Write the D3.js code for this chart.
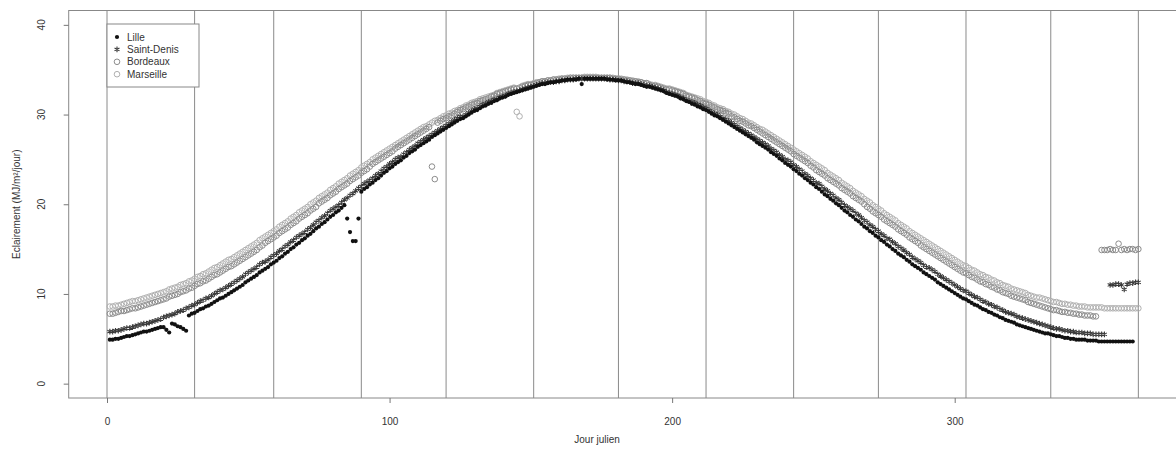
<!DOCTYPE html>
<html><head><meta charset="utf-8">
<script src="https://cdn.jsdelivr.net/npm/d3@7"></script>
<style>body{margin:0;background:#fff}svg{display:block}text{font-family:"Liberation Sans",Arial,sans-serif;fill:#333}</style>
</head><body><svg id="c" width="1176" height="449"></svg>
<script>
const seriesNames = ["Lille", "Saint-Denis", "Bordeaux", "Marseille"];
// daily values, day 1..365 (10 per row)
const lille = [
4.9,4.9,5.0,5.0,5.1,5.2,5.3,5.3,5.4,5.5,
5.6,5.7,5.8,5.8,5.9,6.0,6.1,6.2,6.3,6.3,
6.0,5.7,6.7,6.6,6.4,6.3,6.1,5.9,7.6,7.8,
7.9,8.1,8.3,8.4,8.6,8.7,8.9,9.1,9.3,9.5,
9.6,9.8,10.0,10.2,10.4,10.6,10.8,11.0,11.3,11.5,
11.7,11.9,12.1,12.4,12.6,12.8,13.0,13.3,13.5,13.7,
14.0,14.2,14.5,14.7,15.0,15.2,15.5,15.7,16.0,16.2,
16.5,16.7,17.0,17.3,17.5,17.8,18.0,18.3,18.6,18.8,
19.1,19.3,19.6,19.9,18.4,16.9,15.9,15.9,18.4,21.4,
21.7,21.9,22.2,22.4,22.7,22.9,23.2,23.5,23.7,24.0,
24.2,24.5,24.7,24.9,25.2,25.4,25.7,25.9,26.1,26.4,
26.6,26.8,27.0,27.2,27.5,27.7,27.9,28.1,28.3,28.5,
28.7,28.9,29.1,29.3,29.5,29.6,29.8,30.0,30.2,30.4,
30.5,30.7,30.9,31.0,31.2,31.3,31.5,31.6,31.8,31.9,
32.0,32.2,32.3,32.4,32.5,32.6,32.7,32.8,32.9,33.0,
33.1,33.2,33.3,33.4,33.4,33.5,33.6,33.6,33.7,33.7,
33.8,33.8,33.9,33.9,33.9,33.9,34.0,33.4,34.0,34.0,
34.0,34.0,34.0,34.0,34.0,34.0,33.9,33.9,33.9,33.8,
33.8,33.8,33.7,33.6,33.6,33.5,33.4,33.4,33.3,33.2,
33.1,33.1,33.0,32.9,32.8,32.7,32.6,32.4,32.3,32.2,
32.1,32.0,31.8,31.7,31.5,31.4,31.2,31.1,30.9,30.8,
30.6,30.5,30.3,30.1,29.9,29.8,29.6,29.4,29.2,29.0,
28.8,28.6,28.4,28.2,28.0,27.8,27.6,27.4,27.2,26.9,
26.7,26.5,26.3,26.1,25.8,25.6,25.4,25.1,24.9,24.6,
24.4,24.2,23.9,23.7,23.4,23.2,22.9,22.7,22.4,22.2,
21.9,21.7,21.4,21.1,20.9,20.6,20.4,20.1,19.9,19.6,
19.3,19.1,18.8,18.6,18.3,18.1,17.8,17.5,17.3,17.0,
16.8,16.5,16.3,16.0,15.8,15.5,15.3,15.0,14.8,14.5,
14.3,14.1,13.8,13.6,13.3,13.1,12.9,12.7,12.4,12.2,
12.0,11.8,11.6,11.3,11.1,10.9,10.7,10.5,10.3,10.1,
9.9,9.7,9.5,9.4,9.2,9.0,8.8,8.7,8.5,8.3,
8.2,8.0,7.9,7.7,7.6,7.4,7.3,7.1,7.0,6.9,
6.8,6.6,6.5,6.4,6.3,6.2,6.1,6.0,5.9,5.8,
5.7,5.6,5.6,5.5,5.4,5.3,5.3,5.2,5.1,5.1,
5.0,5.0,4.9,4.9,4.9,4.9,4.8,4.8,4.8,4.8,
4.7,4.7,4.7,4.7,4.7,4.7,4.7,4.7,4.7,4.7,
4.7,4.7,4.7,null,null];
const saintDenis = [
5.8,5.8,5.9,5.9,6.0,6.1,6.2,6.2,6.3,6.4,
6.5,6.6,6.7,6.7,6.8,6.9,7.0,7.1,7.2,7.4,
7.5,7.6,7.7,7.8,8.0,8.1,8.2,8.4,8.5,8.7,
8.8,9.0,9.2,9.3,9.5,9.6,9.8,10.0,10.2,10.4,
10.5,10.7,10.9,11.1,11.3,11.5,11.7,11.9,12.2,12.4,
12.6,12.8,13.0,13.3,13.5,13.6,13.8,14.1,14.3,14.5,
14.8,15.0,15.3,15.5,15.8,16.0,16.3,16.5,16.7,16.9,
17.2,17.4,17.7,18.0,18.2,18.5,18.7,19.0,19.3,19.5,
19.7,19.9,20.2,20.5,20.7,21.0,21.2,21.5,21.8,22.0,
22.3,22.5,22.7,22.9,23.2,23.4,23.7,24.0,24.2,24.5,
24.7,25.0,25.2,25.3,25.6,25.8,26.1,26.3,26.5,26.8,
27.0,27.2,27.4,27.6,27.8,28.0,28.2,28.4,28.6,28.8,
29.0,29.2,29.4,29.6,29.8,29.8,30.0,30.2,30.4,30.6,
30.7,30.9,31.1,31.2,31.4,31.5,31.7,31.7,31.9,32.0,
32.1,32.3,32.4,32.5,32.6,32.7,32.8,32.9,33.0,33.1,
33.2,33.3,33.4,33.5,33.5,33.6,33.6,33.6,33.7,33.7,
33.8,33.8,33.9,33.9,33.9,34.0,34.0,34.0,34.0,34.0,
34.0,34.0,34.0,34.0,34.0,34.0,34.0,33.9,33.9,33.9,
33.8,33.8,33.7,33.7,33.6,33.5,33.5,33.5,33.4,33.3,
33.2,33.2,33.1,33.0,32.9,32.8,32.7,32.5,32.4,32.3,
32.2,32.1,31.9,31.8,31.6,31.5,31.4,31.3,31.1,31.0,
30.8,30.7,30.5,30.3,30.1,30.0,29.8,29.6,29.5,29.3,
29.1,28.9,28.7,28.5,28.3,28.1,27.9,27.7,27.5,27.3,
27.1,26.9,26.7,26.5,26.2,26.0,25.8,25.5,25.3,25.0,
24.9,24.7,24.4,24.2,23.9,23.7,23.4,23.2,22.9,22.7,
22.4,22.3,22.0,21.7,21.5,21.2,21.0,20.7,20.5,20.2,
19.9,19.7,19.5,19.3,19.0,18.8,18.5,18.2,18.0,17.7,
17.5,17.2,17.0,16.7,16.5,16.2,16.1,15.8,15.6,15.3,
15.1,14.9,14.6,14.4,14.1,13.9,13.7,13.5,13.2,13.0,
12.9,12.7,12.5,12.2,12.0,11.8,11.6,11.4,11.2,11.0,
10.8,10.6,10.4,10.3,10.1,9.9,9.7,9.6,9.4,9.2,
9.1,8.9,8.8,8.6,8.5,8.3,8.2,8.0,7.9,7.8,
7.7,7.5,7.4,7.3,7.2,7.1,7.0,6.9,6.8,6.7,
6.6,6.5,6.4,6.3,6.2,6.1,6.1,6.0,5.9,5.9,
5.8,5.8,5.7,5.7,5.7,5.6,5.6,5.6,5.5,5.5,
5.5,5.5,5.5,null,11.0,11.0,11.1,11.1,11.0,10.5,
11.1,11.2,11.2,11.3,11.3];
const bordeaux = [
7.8,7.8,7.9,8.0,8.1,8.1,8.2,8.3,8.4,8.4,
8.5,8.6,8.7,8.8,8.9,9.0,9.1,9.2,9.3,9.4,
9.5,9.7,9.8,9.9,10.0,10.2,10.3,10.4,10.6,10.7,
10.9,11.1,11.2,11.4,11.5,11.7,11.9,12.1,12.2,12.4,
12.6,12.8,13.0,13.1,13.3,13.5,13.7,13.9,14.1,14.3,
14.5,14.7,14.9,15.2,15.4,15.7,15.9,16.1,16.3,16.5,
16.8,17.0,17.2,17.4,17.7,17.9,18.1,18.4,18.6,18.8,
19.0,19.3,19.5,19.7,20.1,20.3,20.5,20.7,21.0,21.2,
21.4,21.7,21.9,22.1,22.3,22.6,22.8,23.0,23.2,23.5,
23.7,23.9,24.2,24.5,24.7,24.9,25.1,25.3,25.5,25.7,
25.9,26.2,26.4,26.6,26.8,27.0,27.2,27.4,27.6,27.8,
28.0,28.2,28.4,28.6,24.2,22.8,29.1,29.3,29.5,29.6,
29.8,29.9,30.1,30.3,30.5,30.6,30.8,30.9,31.1,31.2,
31.3,31.5,31.6,31.7,31.8,32.0,32.1,32.3,32.4,32.5,
32.6,32.7,32.8,32.9,32.9,33.0,33.1,33.2,33.3,33.3,
33.4,33.5,33.6,33.7,33.7,33.8,33.8,33.9,33.9,33.9,
34.0,34.0,34.0,34.1,34.1,34.1,34.1,34.1,34.1,34.1,
34.1,34.1,34.1,34.1,34.1,34.1,34.1,34.1,34.0,34.0,
34.0,33.9,33.9,33.8,33.8,33.7,33.7,33.6,33.6,33.5,
33.5,33.3,33.2,33.2,33.1,33.0,32.9,32.8,32.8,32.7,
32.6,32.5,32.4,32.3,32.1,32.0,31.9,31.8,31.6,31.5,
31.3,31.2,31.1,30.9,30.8,30.6,30.5,30.4,30.2,30.1,
29.8,29.7,29.5,29.3,29.2,29.0,28.8,28.7,28.5,28.3,
28.1,27.9,27.7,27.5,27.3,27.1,26.9,26.7,26.5,26.3,
26.1,25.9,25.6,25.4,25.2,25.0,24.8,24.6,24.3,24.1,
23.8,23.6,23.4,23.2,22.9,22.7,22.5,22.3,22.1,21.8,
21.6,21.4,21.2,20.9,20.7,20.5,20.3,20.0,19.7,19.5,
19.2,19.0,18.8,18.6,18.3,18.1,17.9,17.7,17.5,17.2,
17.0,16.8,16.6,16.3,16.1,15.9,15.7,15.4,15.2,15.0,
14.8,14.6,14.4,14.2,14.0,13.8,13.6,13.4,13.2,13.0,
12.8,12.6,12.4,12.3,12.1,11.9,11.8,11.6,11.4,11.3,
11.1,11.0,10.8,10.7,10.5,10.4,10.2,10.1,10.0,9.8,
9.7,9.6,9.5,9.4,9.3,9.1,9.0,8.9,8.8,8.7,
8.6,8.5,8.4,8.3,8.2,8.2,8.1,8.0,8.0,7.9,
7.9,7.8,7.8,7.7,7.7,7.6,7.6,7.6,7.5,7.5,
null,14.9,14.9,14.9,15.0,14.9,14.9,15.6,14.9,15.0,
14.9,15.0,15.0,14.9,15.0];
const marseille = [
8.6,8.6,8.7,8.7,8.8,8.9,9.0,9.1,9.2,9.2,
9.3,9.4,9.5,9.6,9.7,9.8,9.9,10.0,10.1,10.2,
10.3,10.5,10.6,10.7,10.8,11.0,11.1,11.2,11.4,11.5,
11.7,11.9,12.0,12.2,12.3,12.5,12.7,12.9,13.0,13.2,
13.4,13.6,13.8,13.9,14.1,14.3,14.5,14.7,14.9,15.1,
15.3,15.5,15.7,16.0,16.2,16.4,16.6,16.8,17.0,17.2,
17.5,17.7,17.9,18.1,18.4,18.6,18.8,19.1,19.3,19.5,
19.7,20.0,20.2,20.4,20.7,20.9,21.1,21.3,21.6,21.8,
22.0,22.3,22.5,22.7,22.9,23.2,23.4,23.6,23.8,24.1,
24.3,24.5,24.7,25.0,25.2,25.4,25.6,25.8,26.0,26.2,
26.4,26.6,26.8,27.0,27.2,27.4,27.6,27.8,28.0,28.2,
28.4,28.6,28.7,28.9,29.1,29.3,29.4,29.6,29.8,29.9,
30.1,30.2,30.4,30.5,30.7,30.8,31.0,31.1,31.3,31.4,
31.5,31.7,31.8,31.9,32.0,32.1,32.2,32.4,32.5,32.6,
32.7,32.8,32.9,33.0,30.3,29.8,33.2,33.3,33.4,33.4,
33.5,33.6,33.6,33.7,33.7,33.8,33.8,33.9,33.9,34.0,
34.0,34.0,34.1,34.1,34.1,34.1,34.1,34.1,34.2,34.2,
34.2,34.2,34.2,34.1,34.1,34.1,34.1,34.1,34.1,34.0,
34.0,34.0,33.9,33.9,33.8,33.8,33.7,33.7,33.6,33.5,
33.5,33.4,33.3,33.3,33.2,33.1,33.0,32.9,32.9,32.8,
32.7,32.6,32.5,32.4,32.2,32.1,32.0,31.9,31.8,31.7,
31.5,31.4,31.3,31.1,31.0,30.8,30.7,30.6,30.4,30.3,
30.1,30.0,29.8,29.6,29.5,29.3,29.1,29.0,28.8,28.6,
28.4,28.3,28.1,27.9,27.7,27.5,27.3,27.1,26.9,26.7,
26.5,26.3,26.1,25.9,25.7,25.5,25.3,25.1,24.8,24.6,
24.4,24.2,24.0,23.8,23.5,23.3,23.1,22.9,22.7,22.4,
22.2,22.0,21.8,21.5,21.3,21.1,20.9,20.6,20.4,20.2,
19.9,19.7,19.5,19.3,19.0,18.8,18.6,18.4,18.2,17.9,
17.7,17.5,17.3,17.0,16.8,16.6,16.4,16.2,16.0,15.8,
15.6,15.4,15.2,15.0,14.8,14.6,14.4,14.2,14.0,13.8,
13.6,13.4,13.2,13.1,12.9,12.7,12.6,12.4,12.2,12.1,
11.9,11.8,11.6,11.5,11.3,11.2,11.0,10.9,10.8,10.6,
10.5,10.4,10.3,10.2,10.1,9.9,9.8,9.7,9.6,9.6,
9.5,9.4,9.3,9.2,9.1,9.1,9.0,8.9,8.9,8.8,
8.8,8.7,8.7,8.6,8.6,8.6,8.5,8.5,8.5,8.5,
8.5,8.5,8.4,8.4,8.4,8.4,8.4,8.4,8.4,8.4,
8.4,8.4,8.4,8.4,8.4];
const monthBounds = [0, 31, 59, 90, 120, 151, 181, 212, 243, 273, 304, 334, 365];
const xTicks = [0, 100, 200, 300];
const yTicks = [0, 10, 20, 30, 40];
const xLabel = "Jour julien";
const yLabel = "Eclairement (MJ/m²/jour)";

const svg = d3.select("#c");
svg.append("rect").attr("width", 1176).attr("height", 449).attr("fill", "#fff");
const x = d3.scaleLinear().domain([-13.56, 379.56]).range([68.7, 1179.5]);
const y = d3.scaleLinear().domain([-1.6, 41.6]).range([398, 10.5]);
const x0 = x.range()[0], x1 = x.range()[1], yb = y.range()[0], yt = y.range()[1];

// month separators
svg.append("g").selectAll("line").data(monthBounds).join("line")
  .attr("x1", d => x(d)).attr("x2", d => x(d))
  .attr("y1", yt).attr("y2", yb)
  .attr("stroke", "#8a8a8a").attr("stroke-width", 1);

const series = [
  {name: "Marseille", vals: marseille},
  {name: "Bordeaux", vals: bordeaux},
  {name: "Saint-Denis", vals: saintDenis},
  {name: "Lille", vals: lille}
];
const styles = {
  "Lille": {type: "dot", color: "#111"},
  "Saint-Denis": {type: "star", color: "#3a3a3a"},
  "Bordeaux": {type: "ring", color: "#8c8c8c"},
  "Marseille": {type: "ring", color: "#b0b0b0"}
};
const clipId = "plotclip";
svg.append("clipPath").attr("id", clipId).append("rect")
  .attr("x", x0).attr("y", yt).attr("width", x1 - x0).attr("height", yb - yt);

function drawMarker(g, st, cx, cy) {
  if (st.type === "dot") {
    g.append("circle").attr("cx", cx).attr("cy", cy).attr("r", 2.1).attr("fill", st.color);
  } else if (st.type === "star") {
    g.append("path").attr("transform", `translate(${cx},${cy})`)
      .attr("d", d3.symbol().type(d3.symbolAsterisk).size(22)())
      .attr("fill", "none").attr("stroke", st.color).attr("stroke-width", 1.1);
  } else {
    g.append("circle").attr("cx", cx).attr("cy", cy).attr("r", 2.8)
      .attr("fill", "none").attr("stroke", st.color).attr("stroke-width", 1);
  }
}

const pg = svg.append("g").attr("clip-path", `url(#${clipId})`);
series.forEach(s => {
  const st = styles[s.name];
  const g = pg.append("g");
  s.vals.forEach((v, i) => {
    if (v === null) return;
    drawMarker(g, st, x(i + 1), y(v));
  });
});

// box
svg.append("rect").attr("x", x0).attr("y", yt).attr("width", x1 - x0).attr("height", yb - yt)
  .attr("fill", "none").attr("stroke", "#888").attr("stroke-width", 1);

// x axis
const xa = svg.append("g").attr("transform", `translate(0,${yb})`)
  .call(d3.axisBottom(x).tickValues(xTicks).tickSize(5).tickPadding(15).tickFormat(d3.format("d")));
xa.select(".domain").remove();
xa.selectAll("line").attr("stroke", "#777");
xa.selectAll("text").attr("font-size", 10).attr("fill", "#333");

// y axis
const ya = svg.append("g").attr("transform", `translate(${x0},0)`)
  .call(d3.axisLeft(y).tickValues(yTicks).tickSize(5).tickFormat(""));
ya.select(".domain").remove();
ya.selectAll("line").attr("stroke", "#777");
svg.append("g").selectAll("text").data(yTicks).join("text")
  .attr("transform", d => `translate(45,${y(d)}) rotate(-90)`)
  .attr("text-anchor", "middle").attr("font-size", 10).text(d => d);

// axis titles
svg.append("text").attr("x", (x0 + x1) / 2 - 27).attr("y", 443)
  .attr("text-anchor", "middle").attr("font-size", 10).text(xLabel);
svg.append("text").attr("transform", `translate(20,${(yt + yb) / 2}) rotate(-90)`)
  .attr("text-anchor", "middle").attr("font-size", 10).text(yLabel);

// legend
const lg = svg.append("g");
lg.append("rect").attr("x", 107).attr("y", 24).attr("width", 92).attr("height", 63)
  .attr("fill", "#fff").attr("stroke", "#888");
seriesNames.forEach((n, i) => {
  const cy = 37 + i * 12.4;
  drawMarker(lg, styles[n], 117, cy);
  lg.append("text").attr("x", 127).attr("y", cy + 3.5).attr("font-size", 10).text(n);
});
</script></body></html>
